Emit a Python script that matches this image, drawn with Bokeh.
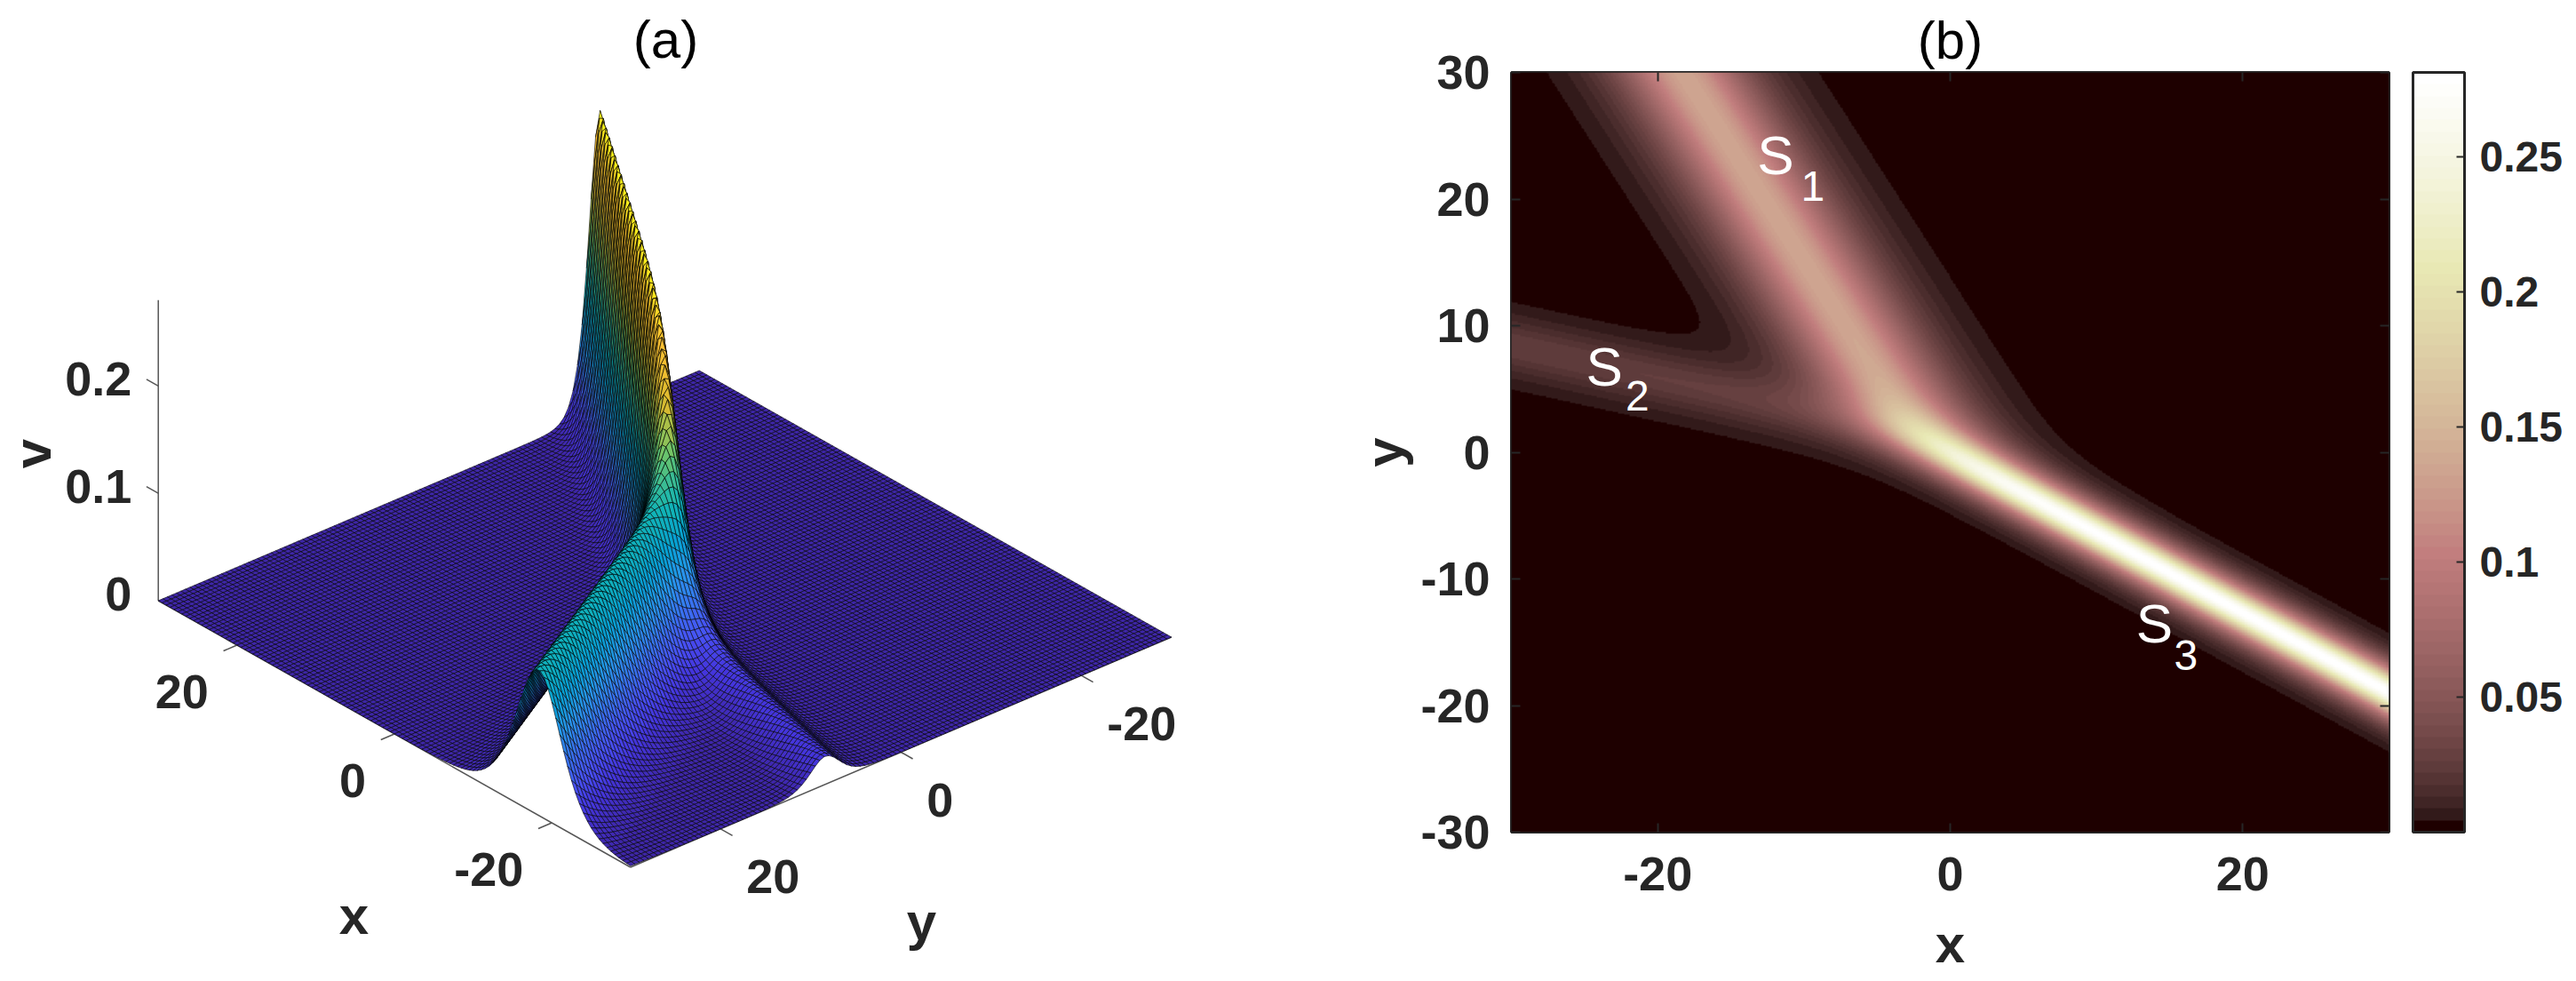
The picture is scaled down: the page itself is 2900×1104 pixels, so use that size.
import numpy as np
from bokeh.core.properties import value
from bokeh.embed import file_html
from bokeh.layouts import column, row
from bokeh.models import (ColorBar, FixedTicker, LinearAxis, LinearColorMapper,
                          Range1d, Title)
from bokeh.plotting import figure
from bokeh.resources import INLINE

# NOTE: the underlying field cannot be read cell by cell from the picture. It is a
# fitted reconstruction: ridge slopes, peak heights and the crossing point of S1, S2, S3
# were read off the reference and expressed as the phases below.
phase_k = [0.0, 0.227, 0.743]
phase_l = [0.0, 0.893, 1.18]
phase_c = [0.0, -0.70, 0.13]
v_scale = 2.04

x_ticks = [-20, 0, 20]
y_ticks = [-20, 0, 20]
z_ticks = [0, 0.1, 0.2]
z_top = 0.28
b_x_ticks = [-20, 0, 20]
b_y_ticks = [-30, -20, -10, 0, 10, 20, 30]
cb_ticks = [0.05, 0.1, 0.15, 0.2, 0.25]
cb_low, cb_high = 0.0, 0.2813
soliton_names = ["S", "S", "S"]
soliton_subs = ["1", "2", "3"]

INK = "#262626"
FONT = "Liberation Sans"


def field(x, y):
    th = [k * x + l * y + c for k, l, c in zip(phase_k, phase_l, phase_c)]
    th = np.stack(th)
    th = th - th.max(axis=0)
    w = np.exp(th)
    w = w / w.sum(axis=0)
    k = np.array(phase_k).reshape(3, *([1] * x.ndim))
    m1 = (w * k).sum(axis=0)
    m2 = (w * k * k).sum(axis=0)
    return v_scale * (m2 - m1 * m1)


def pink_palette(m=64):
    t = np.linspace(0, 1, m)
    n = int(3 / 8 * m)
    r = np.concatenate([np.arange(1, n + 1) / n, np.ones(m - n)])
    g = np.concatenate([np.zeros(n), np.arange(1, n + 1) / n, np.ones(m - 2 * n)])
    b = np.concatenate([np.zeros(2 * n), np.arange(1, m - 2 * n + 1) / (m - 2 * n)])
    rgb = np.sqrt((2 * t[:, None] + np.stack([r, g, b], axis=1)) / 3)
    return ["#%02x%02x%02x" % tuple(int(round(c * 255)) for c in p) for p in rgb]


parula_pos = [0, 0.08, 0.15, 0.31, 0.39, 0.5, 0.625, 0.75, 0.875, 1]
parula_anchors = ["#3E26A8", "#4435DC", "#4852F5", "#2797EB", "#07A0D5", "#12B5B5",
                  "#6CC56A", "#D8BA30", "#FEC032", "#F9FB15"]


def parula_palette(m=64):
    a = np.array([[int(h[i:i + 2], 16) for i in (1, 3, 5)] for h in parula_anchors], float)
    t = np.linspace(0, 1, m)
    c = np.stack([np.interp(t, parula_pos, a[:, i]) for i in range(3)], axis=1)
    return ["#%02x%02x%02x" % tuple(int(round(v)) for v in p) for p in c]


# ---------------- panel (a): coordinates of this figure are page pixels
O = (748.0, 696.0)
PX = (-8.86, -5.0)
PY = (-10.15, 4.317)
PZ = -1208.0


def proj(x, y, v=0.0):
    x, y, v = np.asarray(x, float), np.asarray(y, float), np.asarray(v, float)
    return O[0] + PX[0] * x + PY[0] * y, O[1] + PX[1] * x + PY[1] * y + PZ * v


pa = figure(width=1450, height=1104, x_range=Range1d(0, 1450), y_range=Range1d(1104, 0),
            toolbar_location=None, output_backend="svg", min_border=0)
pa.axis.visible = False
pa.grid.visible = False
pa.outline_line_color = None

AX = "#555555"
# axes lines and ticks
ax_x, ax_y = proj([30, -30], [30, 30])
pa.line(ax_x, ax_y, line_color=AX, line_width=1.5)
ay_x, ay_y = proj([-30, -30], [30, -30])
pa.line(ay_x, ay_y, line_color=AX, line_width=1.5)
az_x, az_y = proj([30, 30], [30, 30], [0, z_top])
pa.line(az_x, az_y, line_color=AX, line_width=1.5)
for t in x_ticks:
    a, b = proj([t, t], [30, 31.5])
    pa.line(a, b, line_color=AX, line_width=1.5)
for t in y_ticks:
    a, b = proj([-30, -31.5], [t, t])
    pa.line(a, b, line_color=AX, line_width=1.5)
for t in z_ticks[1:]:
    a, b = proj([30, 31.5], [30, 30], [t, t])
    pa.line(a, b, line_color=AX, line_width=1.5)

# surface, painted back to front
gx = np.linspace(30, -30, 121)
gy = np.linspace(-30, 30, 121)
GX, GY = np.meshgrid(gx, gy, indexing="ij")
GV = field(GX, GY)
PXs, PYs = proj(GX, GY, GV)
parula = parula_palette()
xs, ys, cols = [], [], []
for i in range(len(gx) - 1):
    for j in range(len(gy) - 1):
        xs.append([PXs[i, j], PXs[i + 1, j], PXs[i + 1, j + 1], PXs[i, j + 1]])
        ys.append([PYs[i, j], PYs[i + 1, j], PYs[i + 1, j + 1], PYs[i, j + 1]])
        mean = (GV[i, j] + GV[i + 1, j] + GV[i + 1, j + 1] + GV[i, j + 1]) / 4
        cols.append(parula[min(63, int(mean / z_top * 64))])
pa.patches(xs, ys, fill_color=cols, line_color="#000000", line_width=0.6)

txt = dict(text_font=value(FONT), text_font_style="bold", text_font_size="54px",
           text_color=INK, text_baseline="middle")
a, b = proj(x_ticks, [30] * 3)
pa.text(a - 32, b + 52, text=[str(t) for t in x_ticks], text_align="right", **txt)
a, b = proj([-30] * 3, y_ticks)
pa.text(a + 29, b + 54, text=[str(t) for t in y_ticks], text_align="left", **txt)
a, b = proj([30] * 3, [30] * 3, z_ticks)
pa.text(a - 30, b - 8, text=[str(t) for t in z_ticks], text_align="right", **txt)
lab = dict(txt)
lab["text_font_size"] = "60px"
pa.text([398, 1037], [1030, 1037], text=["x", "y"], text_align="center", **lab)
pa.text([36], [510], text=["v"], text_align="center", angle=np.pi / 2, **lab)
pa.text([749], [44], text=["(a)"], text_align="center", text_baseline="middle",
        text_font=value(FONT), text_font_size="60px", text_color="#000000")

# ---------------- panel (b)
ix = np.linspace(-30, 30, 660)
iy = np.linspace(-30, 30, 570)
IX, IY = np.meshgrid(ix, iy)
IV = field(IX, IY)
mapper = LinearColorMapper(palette=pink_palette(), low=cb_low, high=cb_high)

pb = figure(frame_width=988, frame_height=855, x_range=Range1d(-30, 30), y_range=Range1d(-30, 30),
            toolbar_location=None, output_backend="svg", min_border_left=251, min_border_top=81,
            min_border_bottom=168, min_border_right=211)
pb.grid.visible = False
pb.image([IV], x=-30, y=-30, dw=60, dh=60, color_mapper=mapper)

pb.outline_line_color = INK
pb.outline_line_width = 3
style = dict(major_tick_in=10, major_tick_out=0, minor_tick_line_color=None,
             major_tick_line_color=INK, major_tick_line_width=2,
             axis_line_color=None)
for ax, ticks in ((pb.xaxis[0], b_x_ticks), (pb.yaxis[0], b_y_ticks)):
    ax.ticker = FixedTicker(ticks=ticks)
    ax.major_label_overrides = {t: str(t) for t in ticks}
    ax.major_label_text_font = FONT
    ax.major_label_text_font_style = "bold"
    ax.major_label_text_font_size = "54px"
    ax.major_label_text_color = INK
    ax.axis_label_text_font = FONT
    ax.axis_label_text_font_style = "bold"
    ax.axis_label_text_font_size = "60px"
    ax.axis_label_text_color = INK
    for k, v in style.items():
        setattr(ax, k, v)
pb.xaxis[0].axis_label = "x"
pb.yaxis[0].axis_label = "y"
pb.xaxis[0].major_label_standoff = 28
pb.xaxis[0].axis_label_standoff = 24
pb.yaxis[0].major_label_standoff = 24
pb.yaxis[0].axis_label_standoff = 4

for ticks, where in ((b_x_ticks, "above"), (b_y_ticks, "right")):
    extra = LinearAxis(ticker=FixedTicker(ticks=ticks), major_label_overrides={t: "" for t in ticks},
                       major_label_standoff=0, **style)
    pb.add_layout(extra, where)
pb.add_layout(Title(text="(b)", align="center", text_font=FONT, text_font_size="60px",
                    text_font_style="normal", text_color="#000000", standoff=6), "above")

cb = ColorBar(color_mapper=mapper, ticker=FixedTicker(ticks=cb_ticks), width=58, margin=0, padding=0,
              location=(27, 0),
              major_label_text_font=FONT, major_label_text_font_style="bold",
              major_label_text_font_size="48px", major_label_text_color=INK,
              label_standoff=17, major_tick_in=9, major_tick_line_color=INK, major_tick_line_width=2,
              minor_tick_line_color=None, bar_line_color=INK, bar_line_width=3)
pb.add_layout(cb, "right")

lx = [-13.2, -24.9, 12.7]
ly = [23.5, 6.8, -13.5]
sx = [-10.2, -22.2, 15.3]
sy = [21.0, 4.45, -16.0]
wt = dict(text_font=value(FONT), text_color="#ffffff", text_align="left", text_baseline="middle")
pb.text(lx, ly, text=soliton_names, text_font_size="62px", **wt)
pb.text(sx, sy, text=soliton_subs, text_font_size="48px", **wt)

layout = row(column(pa), column(pb), spacing=0)
open("out.html", "w").write(file_html(layout, INLINE))
